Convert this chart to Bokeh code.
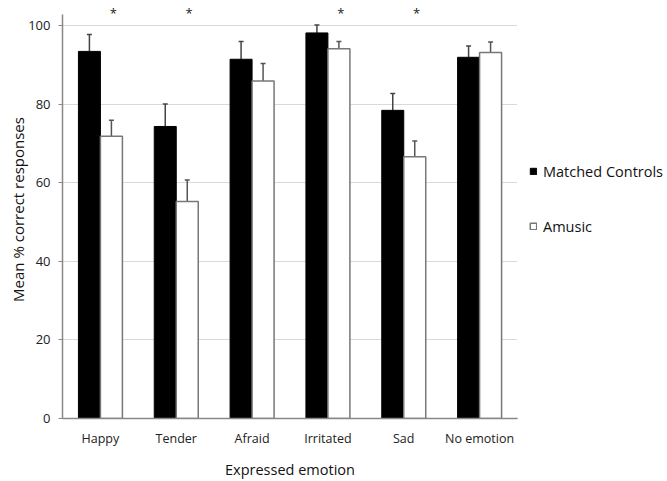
from bokeh.plotting import figure
from bokeh.layouts import row
from bokeh.models import ColumnDataSource, Range1d, FixedTicker, Legend, LegendItem, Whisker, TeeHead
from bokeh.core.properties import value
from bokeh.embed import file_html
from bokeh.resources import INLINE

categories = ["Happy", "Tender", "Afraid", "Irritated", "Sad", "No emotion"]
controls = [93.4, 74.3, 91.4, 98.1, 78.4, 91.9]
controls_err = [4.3, 5.7, 4.5, 2.0, 4.3, 2.9]
amusic = [71.8, 55.2, 85.9, 94.1, 66.6, 93.1]
amusic_err = [4.1, 5.5, 4.4, 1.8, 4.0, 2.7]
significant = [True, True, False, True, True, False]
y_ticks = [0, 20, 40, 60, 80, 100]
series_names = ["Matched Controls", "Amusic"]

FONT = "Open Sans"
BW = 0.29
YMAX = 106.35

pos = [i + 0.5 for i in range(len(categories))]
src_c = ColumnDataSource(dict(x=[p_ - BW / 2 for p_ in pos], top=controls,
                              up=[v + e for v, e in zip(controls, controls_err)]))
src_a = ColumnDataSource(dict(x=[p_ + BW / 2 for p_ in pos], top=amusic,
                              up=[v + e for v, e in zip(amusic, amusic_err)]))

p = figure(width=517, height=481, output_backend="svg", toolbar_location=None,
           x_range=Range1d(0, len(categories)), y_range=Range1d(0, YMAX),
           min_border_left=62, min_border_right=0, min_border_top=0, min_border_bottom=62)
p.outline_line_color = None
p.background_fill_color = "white"

BLACK_STYLE = dict(fill_color="black", line_color="black", line_width=1)
WHITE_STYLE = dict(fill_color="white", line_color="#777777", line_width=1.5)

p.vbar(x="x", top="top", width=BW, bottom=0, source=src_c, **BLACK_STYLE)
p.vbar(x="x", top="top", width=BW, bottom=0, source=src_a, **WHITE_STYLE)

for src, col in ((src_c, "#444444"), (src_a, "#555555")):
    w = Whisker(source=src, base="x", upper="up", lower="top",
                line_color=col, line_width=1.5,
                upper_head=TeeHead(size=5, line_color=col, line_width=1.5),
                lower_head=None)
    p.add_layout(w)

star_x = [pos[i] + 0.17 for i in range(len(categories)) if significant[i]]
star_y = [105.5] * len(star_x)
p.text(x=star_x, y=star_y, text=["*"] * len(star_x), text_align="center",
       text_baseline="top", text_font=value(FONT), text_font_size="13px",
       text_color="#222222")

p.xaxis.ticker = FixedTicker(ticks=pos)
p.xaxis.major_label_overrides = {pp: c for pp, c in zip(pos, categories)}
p.yaxis.ticker = FixedTicker(ticks=y_ticks)
p.yaxis.bounds = (0, 102.8)

p.xgrid.grid_line_color = None
p.ygrid.grid_line_color = "#d9d9d9"
p.ygrid.grid_line_width = 1

for ax in (p.xaxis, p.yaxis):
    ax.axis_line_color = "#888888"
    ax.axis_line_width = 1.5
    ax.major_label_text_font = FONT
    ax.major_label_text_color = "#222222"
    ax.axis_label_text_font = FONT
    ax.axis_label_text_font_style = "normal"
    ax.axis_label_text_color = "#111111"
    ax.minor_tick_line_color = None

p.xaxis.major_label_text_font_size = "12.5px"
p.xaxis.major_tick_line_color = None
p.xaxis.major_tick_in = 0
p.xaxis.major_tick_out = 0
p.xaxis.major_label_standoff = 11
p.xaxis.axis_label = "Expressed emotion"
p.xaxis.axis_label_text_font_size = "14.5px"
p.xaxis.axis_label_standoff = 10

p.yaxis.major_label_text_font_size = "13px"
p.yaxis.major_tick_line_color = "#888888"
p.yaxis.major_tick_in = 0
p.yaxis.major_tick_out = 4
p.yaxis.major_label_standoff = 8
p.yaxis.axis_label = "Mean % correct responses"
p.yaxis.axis_label_text_font_size = "15px"
p.yaxis.axis_label_standoff = -3

# legend panel
p2 = figure(width=150, height=481, output_backend="svg", toolbar_location=None,
            x_range=Range1d(0, 1), y_range=Range1d(0, 1),
            x_axis_location=None, y_axis_location=None, min_border=0)
p2.grid.visible = False
p2.outline_line_color = None
p2.background_fill_color = None
p2.border_fill_color = None
lr_c = p2.vbar(x=[-10], top=[-10], bottom=-20, width=0.1, **BLACK_STYLE)
lr_a = p2.vbar(x=[-10], top=[-10], bottom=-20, width=0.1, **WHITE_STYLE)
legend = Legend(items=[LegendItem(label=series_names[0], renderers=[lr_c]),
                       LegendItem(label=series_names[1], renderers=[lr_a])],
                location=(12, 182), glyph_width=8, glyph_height=8,
                label_standoff=6, label_height=20, spacing=35,
                padding=0, margin=0, border_line_color=None,
                background_fill_alpha=0,
                label_text_font=FONT, label_text_font_size="14.5px",
                label_text_color="#111111")
p2.add_layout(legend)

open("out.html", "w").write(file_html(row(p, p2), INLINE))
